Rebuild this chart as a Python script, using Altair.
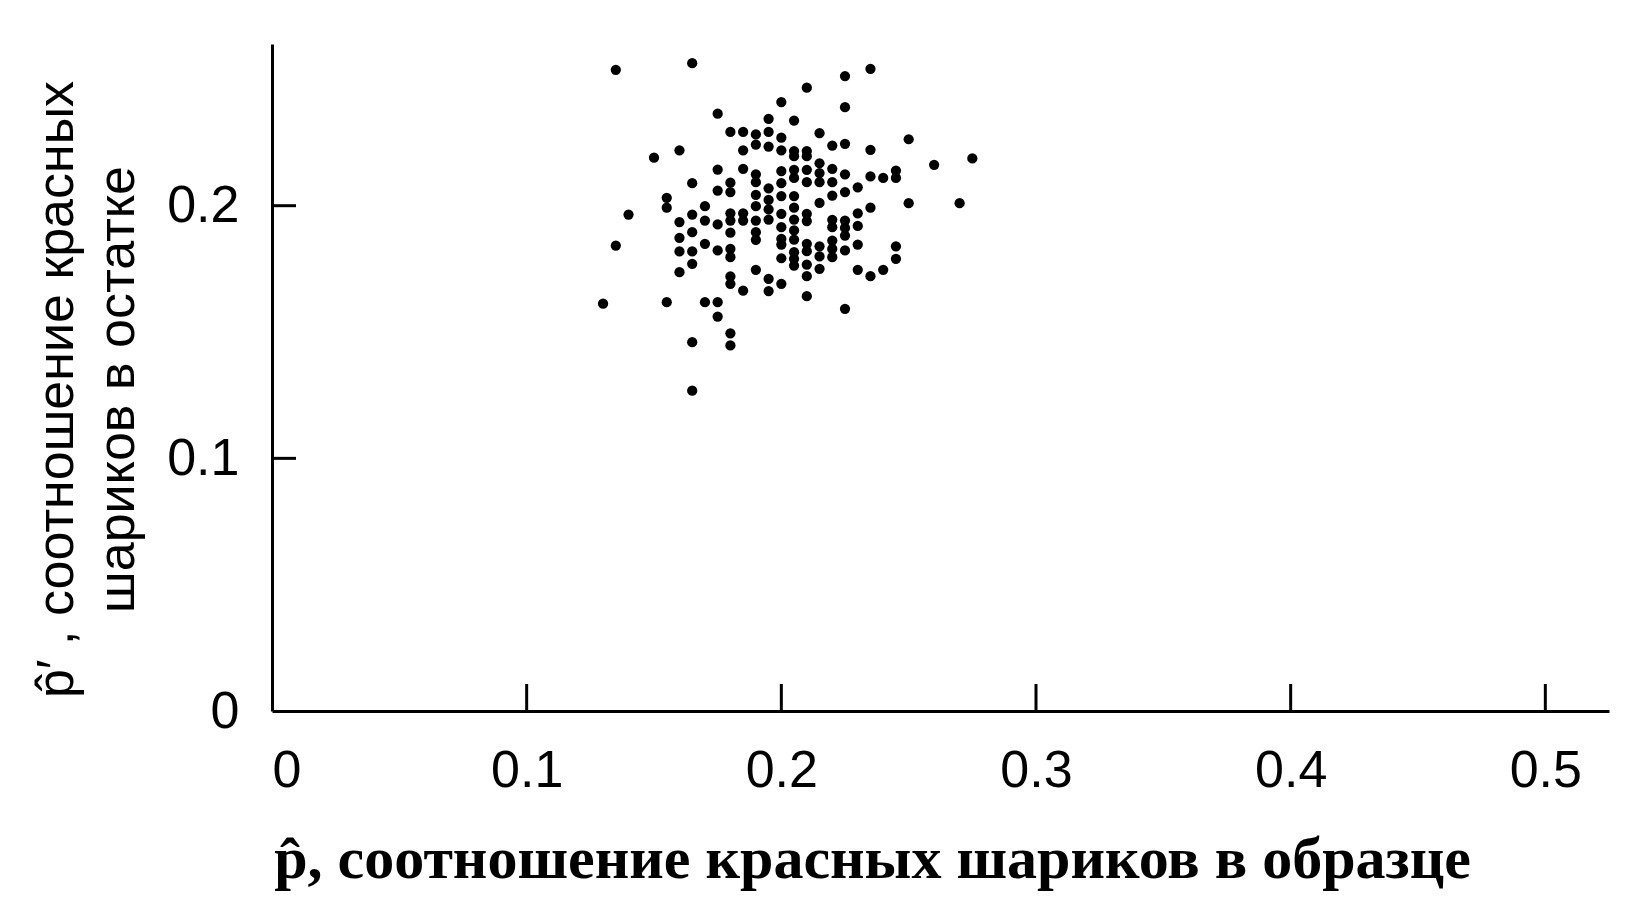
import altair as alt
import pandas as pd

# sample proportion p-hat (x) and remainder proportion p-hat' (y)
x_vals = [0.135, 0.165, 0.235, 0.225, 0.21, 0.2, 0.225, 0.175, 0.195, 0.205,
          0.18, 0.185, 0.19, 0.19, 0.195, 0.2, 0.215, 0.25, 0.195, 0.185,
          0.2, 0.205, 0.205, 0.21, 0.21, 0.22, 0.225, 0.235, 0.16, 0.15,
          0.215, 0.26, 0.22, 0.21, 0.2, 0.205, 0.205, 0.185, 0.175, 0.225,
          0.235, 0.24, 0.245, 0.245, 0.19, 0.19, 0.165, 0.18, 0.18, 0.175,
          0.195, 0.2, 0.21, 0.215, 0.215, 0.22, 0.225, 0.23, 0.2, 0.205,
          0.22, 0.25, 0.215, 0.235, 0.27, 0.19, 0.19, 0.195, 0.195, 0.195,
          0.17, 0.155, 0.155, 0.14, 0.165, 0.17, 0.175, 0.18, 0.18, 0.185,
          0.185, 0.19, 0.2, 0.205, 0.205, 0.21, 0.21, 0.23, 0.22, 0.22,
          0.225, 0.225, 0.225, 0.23, 0.16, 0.18, 0.165, 0.16, 0.19, 0.19,
          0.2, 0.2, 0.205, 0.205, 0.21, 0.21, 0.215, 0.22, 0.22, 0.22,
          0.225, 0.23, 0.245, 0.245, 0.135, 0.17, 0.175, 0.18, 0.18, 0.165,
          0.16, 0.2, 0.205, 0.205, 0.205, 0.21, 0.215, 0.215, 0.165, 0.16,
          0.19, 0.21, 0.23, 0.235, 0.24, 0.195, 0.2, 0.18, 0.18, 0.185,
          0.195, 0.21, 0.13, 0.155, 0.17, 0.175, 0.225, 0.175, 0.18, 0.18,
          0.165, 0.165, 0.2, 0.275]
y_vals = [0.2538, 0.2564, 0.2542, 0.2513, 0.2467, 0.2410, 0.2390, 0.2364, 0.2344, 0.2337,
          0.2292, 0.2292, 0.2282, 0.2242, 0.2292, 0.2269, 0.2287, 0.2263, 0.2234, 0.2219,
          0.2219, 0.2216, 0.2196, 0.2216, 0.2196, 0.2238, 0.2245, 0.2221, 0.2219, 0.2190,
          0.2168, 0.2162, 0.2146, 0.2142, 0.2137, 0.2142, 0.2110, 0.2146, 0.2143, 0.2124,
          0.2116, 0.2110, 0.2139, 0.2110, 0.2124, 0.2093, 0.2089, 0.2091, 0.2054, 0.2060,
          0.2069, 0.2089, 0.2093, 0.2129, 0.2093, 0.2093, 0.2054, 0.2073, 0.2038, 0.2038,
          0.2040, 0.2010, 0.2011, 0.1992, 0.2010, 0.2043, 0.1998, 0.2023, 0.1985, 0.1945,
          0.1998, 0.2031, 0.1992, 0.1965, 0.1965, 0.1941, 0.1926, 0.1970, 0.1941, 0.1970,
          0.1941, 0.1941, 0.1968, 0.1992, 0.1945, 0.1968, 0.1939, 0.1970, 0.1944, 0.1915,
          0.1941, 0.1912, 0.1882, 0.1920, 0.1935, 0.1893, 0.1895, 0.1873, 0.1895, 0.1865,
          0.1869, 0.1846, 0.1902, 0.1866, 0.1849, 0.1820, 0.1839, 0.1862, 0.1829, 0.1796,
          0.1823, 0.1846, 0.1839, 0.1790, 0.1842, 0.1849, 0.1823, 0.1829, 0.1796, 0.1819,
          0.1819, 0.1792, 0.1816, 0.1790, 0.1763, 0.1767, 0.1799, 0.1750, 0.1770, 0.1737,
          0.1746, 0.1721, 0.1746, 0.1721, 0.1746, 0.1710, 0.1691, 0.1720, 0.1691, 0.1664,
          0.1662, 0.1642, 0.1612, 0.1618, 0.1618, 0.1618, 0.1592, 0.1561, 0.1495, 0.1447,
          0.1460, 0.1268, 0.1915, 0.2187]

x_ticks = [0.1, 0.2, 0.3, 0.4, 0.5]
y_ticks = [0.1, 0.2]
x_labels = [0, 0.1, 0.2, 0.3, 0.4, 0.5]
y_labels = [0, 0.1, 0.2]

x_title = "p\u0302, соотношение красных шариков в образце"
y_title = ["p\u0302\u2032 , соотношение красных", "шариков в остатке"]

W, H = 1337, 667

df = pd.DataFrame({"x": x_vals, "y": y_vals})
xt = pd.DataFrame({"x": x_ticks})
yt = pd.DataFrame({"y": y_ticks})

xscale = alt.Scale(domain=[0, 0.525], nice=False, zero=False)
yscale = alt.Scale(domain=[0, 0.264], nice=False, zero=False)

xaxis = alt.Axis(
    values=x_labels, format="~g", grid=False, ticks=False, tickSize=0,
    domainColor="black", domainWidth=3,
    labelFont="Liberation Sans", labelFontSize=52, labelColor="black",
    labelPadding=34, labelBaseline="top",
    title=x_title, titleFont="Liberation Serif", titleFontSize=60,
    titleFontWeight="bold", titleColor="black",
    titleX=600, titleY=166, titleAlign="center", titleBaseline="alphabetic")
yaxis = alt.Axis(
    values=y_labels, format="~g", grid=False, ticks=False, tickSize=0,
    domainColor="black", domainWidth=3,
    labelFont="Liberation Sans", labelFontSize=52, labelColor="black",
    labelPadding=33,
    title=y_title, titleFont="Liberation Sans", titleFontSize=52,
    titleFontWeight="normal", titleColor="black",
    titleAngle=-90, titleX=-200, titleY=345, titleAlign="center",
    titleBaseline="alphabetic", titleLineHeight=61)

points = alt.Chart(df).mark_circle(size=105, color="black", opacity=1).encode(
    x=alt.X("x:Q", scale=xscale, axis=xaxis),
    y=alt.Y("y:Q", scale=yscale, axis=yaxis),
)

xtick_rules = alt.Chart(xt).mark_rule(color="black", strokeWidth=3).encode(
    x=alt.X("x:Q", scale=xscale, axis=xaxis),
    y=alt.value(H),
    y2=alt.value(H - 27),
)

ytick_rules = alt.Chart(yt).mark_rule(color="black", strokeWidth=3).encode(
    y=alt.Y("y:Q", scale=yscale, axis=yaxis),
    x=alt.value(0),
    x2=alt.value(24),
)

chart = alt.layer(points, xtick_rules, ytick_rules).properties(
    width=W, height=H,
    padding={"left": 264, "top": 36, "right": 10, "bottom": 180},
    autosize=alt.AutoSizeParams(type="none"),
    background="white",
).configure_view(stroke=None)

chart.save("out.html", embed_options={"renderer": "svg", "actions": False})
